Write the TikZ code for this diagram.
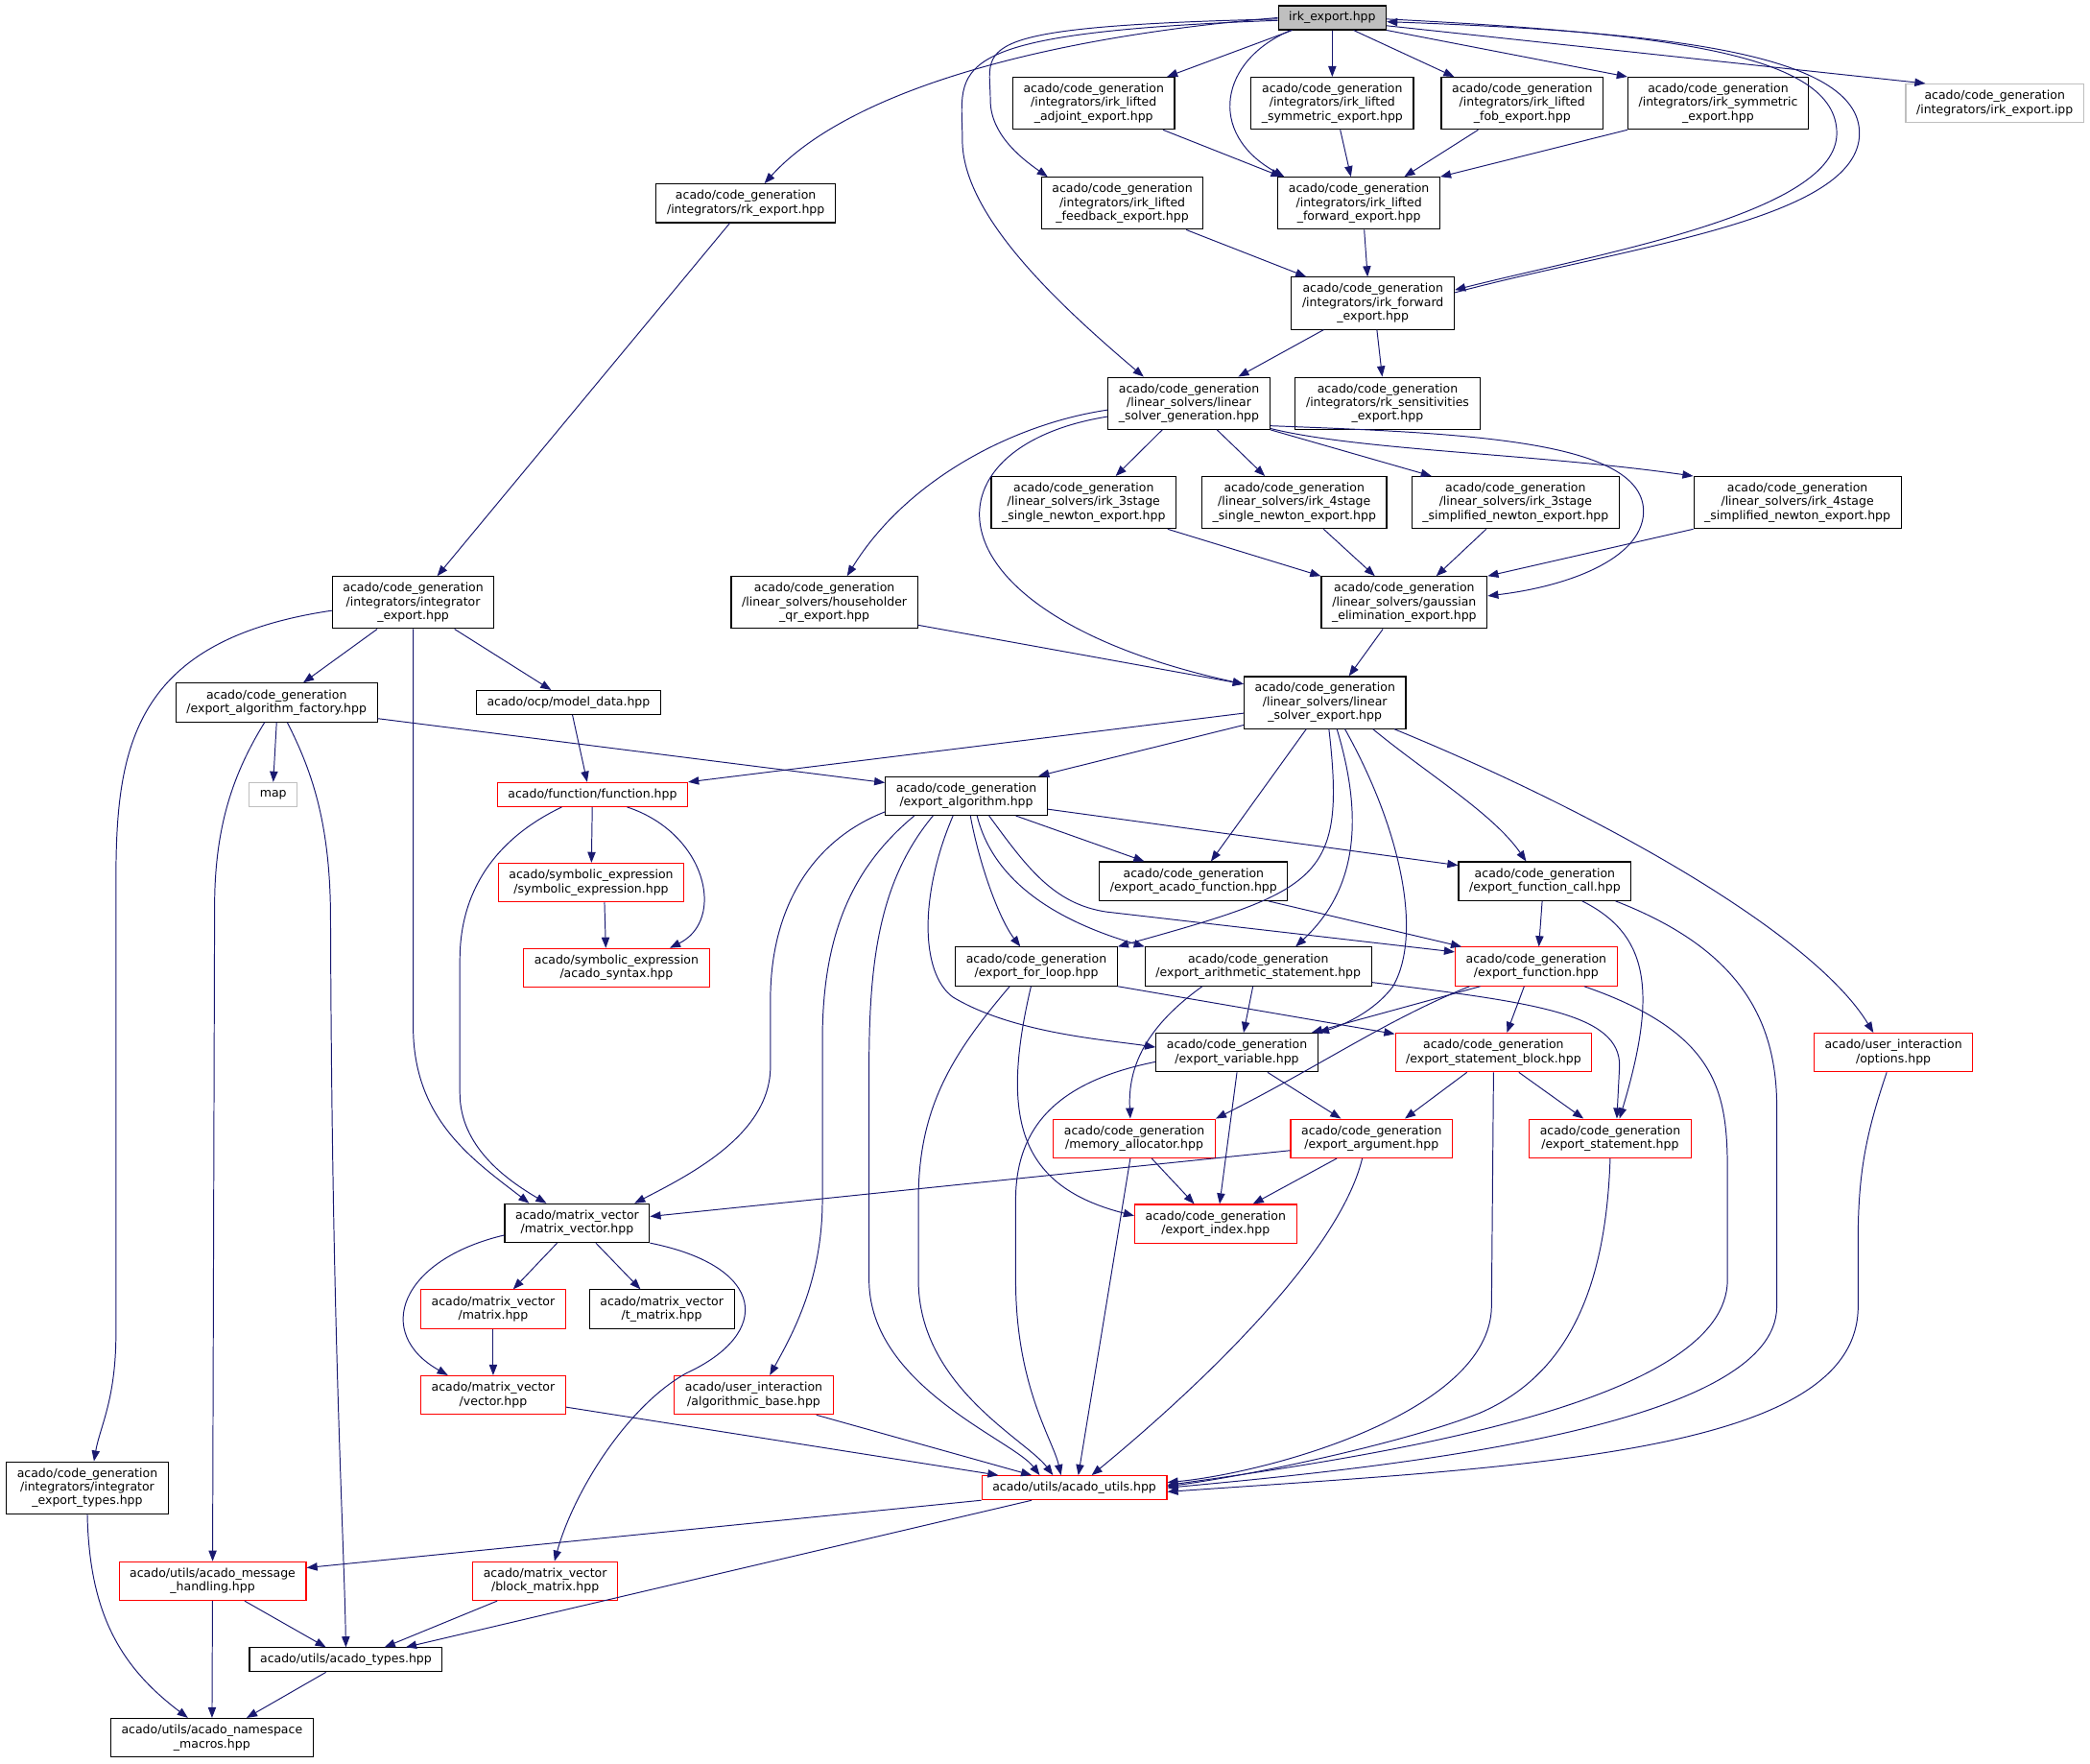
\documentclass[tikz,border=0pt]{standalone}
\usepackage{fontspec}
\setmainfont{DejaVu Sans}
\definecolor{edgeblue}{RGB}{25, 25, 112}
\definecolor{truncred}{RGB}{255, 0, 0}
\definecolor{extgray}{RGB}{191, 191, 191}
\usetikzlibrary{arrows.meta}

\begin{document}
\begin{tikzpicture}[
  x=1pt, y=-1pt,
  dnode/.style={draw=black, line width=0.8pt, inner xsep=8pt, inner ysep=0pt, align=center, font=\fontsize{9}{10.4}\selectfont},
  lines1/.style={dnode, minimum height=18pt},
  lines2/.style={dnode, minimum height=29pt},
  lines3/.style={dnode, minimum height=39pt},
  rootnode/.style={fill=extgray},
  truncnode/.style={draw=truncred},
  extnode/.style={draw=extgray},
  dep/.style={draw=edgeblue, line width=0.7pt, -{Triangle[length=8pt, width=6pt]}}
]
  \useasboundingbox (0,0) rectangle (1568,1323);

  \node[lines1, rootnode] (irkexp) at (999.5,13.3) {irk\_export.hpp};
  \node[lines3] (adjoint) at (820.5,77.5) {acado/code\_generation\\/integrators/irk\_lifted\\\_adjoint\_export.hpp};
  \node[lines3] (liftsym) at (999.5,77.5) {acado/code\_generation\\/integrators/irk\_lifted\\\_symmetric\_export.hpp};
  \node[lines3] (fob) at (1142,77.5) {acado/code\_generation\\/integrators/irk\_lifted\\\_fob\_export.hpp};
  \node[lines3] (irksym) at (1289,77.5) {acado/code\_generation\\/integrators/irk\_symmetric\\\_export.hpp};
  \node[lines2, extnode] (ipp) at (1496.5,77.5) {acado/code\_generation\\/integrators/irk\_export.ipp};
  \node[lines2] (rkexp) at (559.5,152.5) {acado/code\_generation\\/integrators/rk\_export.hpp};
  \node[lines3] (feedback) at (842,152.5) {acado/code\_generation\\/integrators/irk\_lifted\\\_feedback\_export.hpp};
  \node[lines3] (liftfwd) at (1019.5,152.5) {acado/code\_generation\\/integrators/irk\_lifted\\\_forward\_export.hpp};
  \node[lines3] (irkfwd) at (1030,227.5) {acado/code\_generation\\/integrators/irk\_forward\\\_export.hpp};
  \node[lines3] (lsgen) at (892,302.5) {acado/code\_generation\\/linear\_solvers/linear\\\_solver\_generation.hpp};
  \node[lines3] (rksens) at (1041,302.5) {acado/code\_generation\\/integrators/rk\_sensitivities\\\_export.hpp};
  \node[lines3] (sthreesingle) at (813,377) {acado/code\_generation\\/linear\_solvers/irk\_3stage\\\_single\_newton\_export.hpp};
  \node[lines3] (sfoursingle) at (971,377) {acado/code\_generation\\/linear\_solvers/irk\_4stage\\\_single\_newton\_export.hpp};
  \node[lines3] (sthreesimp) at (1137,377) {acado/code\_generation\\/linear\_solvers/irk\_3stage\\\_simplified\_newton\_export.hpp};
  \node[lines3] (sfoursimp) at (1348.5,377) {acado/code\_generation\\/linear\_solvers/irk\_4stage\\\_simplified\_newton\_export.hpp};
  \node[lines3] (intexp) at (310,452) {acado/code\_generation\\/integrators/integrator\\\_export.hpp};
  \node[lines3] (householder) at (618.5,452) {acado/code\_generation\\/linear\_solvers/householder\\\_qr\_export.hpp};
  \node[lines3] (gauss) at (1053.5,452) {acado/code\_generation\\/linear\_solvers/gaussian\\\_elimination\_export.hpp};
  \node[lines2] (factory) at (207.5,527) {acado/code\_generation\\/export\_algorithm\_factory.hpp};
  \node[lines1] (modeldata) at (426.5,527) {acado/ocp/model\_data.hpp};
  \node[lines3] (lsexp) at (994,527) {acado/code\_generation\\/linear\_solvers/linear\\\_solver\_export.hpp};
  \node[lines1, extnode] (map) at (205,596) {map};
  \node[lines1, truncnode] (function) at (444.5,596) {acado/function/function.hpp};
  \node[lines2] (expalg) at (725,597) {acado/code\_generation\\/export\_algorithm.hpp};
  \node[lines2, truncnode] (symexpr) at (443.5,662) {acado/symbolic\_expression\\/symbolic\_expression.hpp};
  \node[lines2] (acadofn) at (895.5,661) {acado/code\_generation\\/export\_acado\_function.hpp};
  \node[lines2] (fncall) at (1159,661) {acado/code\_generation\\/export\_function\_call.hpp};
  \node[lines2, truncnode] (syntax) at (462.5,726) {acado/symbolic\_expression\\/acado\_syntax.hpp};
  \node[lines2] (forloop) at (777.5,725) {acado/code\_generation\\/export\_for\_loop.hpp};
  \node[lines2] (arith) at (944,725) {acado/code\_generation\\/export\_arithmetic\_statement.hpp};
  \node[lines2, truncnode] (expfn) at (1152.5,725) {acado/code\_generation\\/export\_function.hpp};
  \node[lines2] (expvar) at (928,789.5) {acado/code\_generation\\/export\_variable.hpp};
  \node[lines2, truncnode] (stmtblock) at (1120.5,789.5) {acado/code\_generation\\/export\_statement\_block.hpp};
  \node[lines2, truncnode] (options) at (1420.5,789.5) {acado/user\_interaction\\/options.hpp};
  \node[lines2, truncnode] (memalloc) at (851,854) {acado/code\_generation\\/memory\_allocator.hpp};
  \node[lines2, truncnode] (argument) at (1029,854) {acado/code\_generation\\/export\_argument.hpp};
  \node[lines2, truncnode] (statement) at (1208,854) {acado/code\_generation\\/export\_statement.hpp};
  \node[lines2] (matvec) at (433,917.5) {acado/matrix\_vector\\/matrix\_vector.hpp};
  \node[lines2, truncnode] (expindex) at (912,918) {acado/code\_generation\\/export\_index.hpp};
  \node[lines2, truncnode] (mat) at (370,982) {acado/matrix\_vector\\/matrix.hpp};
  \node[lines2] (tmat) at (496.5,982) {acado/matrix\_vector\\/t\_matrix.hpp};
  \node[lines2, truncnode] (vec) at (370,1046.5) {acado/matrix\_vector\\/vector.hpp};
  \node[lines2, truncnode] (algbase) at (565.5,1046.5) {acado/user\_interaction\\/algorithmic\_base.hpp};
  \node[lines1, truncnode] (utils) at (806,1116) {acado/utils/acado\_utils.hpp};
  \node[lines3] (itypes) at (65.5,1116) {acado/code\_generation\\/integrators/integrator\\\_export\_types.hpp};
  \node[lines2, truncnode] (msghandling) at (159.5,1186) {acado/utils/acado\_message\\\_handling.hpp};
  \node[lines2, truncnode] (blockmat) at (409,1186) {acado/matrix\_vector\\/block\_matrix.hpp};
  \node[lines1] (types) at (259.5,1245) {acado/utils/acado\_types.hpp};
  \node[lines2] (macros) at (159,1303.5) {acado/utils/acado\_namespace\\\_macros.hpp};

  \draw[dep] (irkexp.west) .. controls (760,30) and (630,75) .. ([xshift=14pt]rkexp.north);
  \draw[dep] ([xshift=-30pt]irkexp.south) -- ([xshift=55pt]adjoint.north);
  \draw[dep] (irkexp) -- (liftsym);
  \draw[dep] ([xshift=16pt]irkexp.south) -- ([xshift=-51pt]fob.north);
  \draw[dep] (irkexp.south east) -- (irksym.north west);
  \draw[dep] ([yshift=-6pt]irkexp.east) -- ([xshift=-52pt]ipp.north);
  \draw[dep] ([yshift=-1pt]irkexp.west) .. controls (720,20) and (743,35) .. (743,75) .. controls (743,100) and (765,118) .. ([xshift=-56pt]feedback.north);
  \draw[dep] ([xshift=-31pt]irkexp.south) .. controls (915,45) and (905,100) .. ([xshift=-56pt]liftfwd.north);
  \draw[dep] ([yshift=-1pt]irkexp.east) .. controls (1250,25) and (1378,40) .. (1378,100) .. controls (1378,160) and (1200,190) .. ([yshift=10pt]irkfwd.east);
  \draw[dep] ([yshift=8pt]irkfwd.east) .. controls (1220,185) and (1395,165) .. (1395,100) .. controls (1395,40) and (1250,24) .. ([yshift=-3pt]irkexp.east);
  \draw[dep] ([yshift=-2pt]irkexp.west) .. controls (700,25) and (722,50) .. (722,105) .. controls (722,160) and (790,225) .. ([xshift=-34pt]lsgen.north);

  \draw[dep] ([xshift=52pt]adjoint.south) -- ([xshift=-58pt]liftfwd.north);
  \draw[dep] ([xshift=6pt]liftsym.south) -- ([xshift=-6pt]liftfwd.north);
  \draw[dep] ([xshift=-33pt]fob.south) -- ([xshift=34pt]liftfwd.north);
  \draw[dep] (irksym.south west) -- (liftfwd.north east);
  \draw[dep] ([xshift=-12pt]rkexp.south) -- ([xshift=18pt]intexp.north);
  \draw[dep] ([xshift=48pt]feedback.south) -- ([xshift=-50pt]irkfwd.north);
  \draw[dep] ([xshift=4pt]liftfwd.south) -- ([xshift=-4pt]irkfwd.north);
  \draw[dep] ([xshift=-37pt]irkfwd.south) -- ([xshift=37pt]lsgen.north);
  \draw[dep] ([xshift=3pt]irkfwd.south) -- ([xshift=-4pt]rksens.north);

  \draw[dep] ([xshift=-20pt]lsgen.south) -- ([xshift=24pt]sthreesingle.north);
  \draw[dep] ([xshift=21pt]lsgen.south) -- ([xshift=-22pt]sfoursingle.north);
  \draw[dep] (lsgen.south east) -- ([xshift=-63pt]sthreesimp.north);
  \draw[dep] ([yshift=1pt]lsgen.south east) .. controls (1020,338) and (1150,340) .. (sfoursimp.north west);
  \draw[dep] ([yshift=3pt]lsgen.south east) .. controls (1100,325) and (1235,330) .. (1233,385) .. controls (1231,420) and (1175,440) .. ([yshift=5pt]gauss.east);
  \draw[dep] ([yshift=-5pt]lsgen.west) .. controls (760,318) and (680,360) .. ([xshift=17pt]householder.north);
  \draw[dep] ([yshift=-10pt]lsgen.west) .. controls (690,335) and (690,460) .. ([yshift=-6pt]lsexp.north west);
  \draw[dep] ([xshift=63pt]sthreesingle.south) -- (gauss.north west);
  \draw[dep] ([xshift=22pt]sfoursingle.south) -- ([xshift=-22pt]gauss.north);
  \draw[dep] ([xshift=-22pt]sthreesimp.south) -- ([xshift=24pt]gauss.north);
  \draw[dep] (sfoursimp.south west) -- (gauss.north east);
  \draw[dep] ([yshift=3pt]householder.south east) -- ([yshift=-6pt]lsexp.north west);
  \draw[dep] ([xshift=-16pt]gauss.south) -- ([xshift=18pt]lsexp.north);

  \draw[dep] ([xshift=-27pt]intexp.south) -- ([xshift=20pt]factory.north);
  \draw[dep] ([xshift=31pt]intexp.south) -- ([xshift=-13pt]modeldata.north);
  \draw[dep] (intexp.south) -- (310,770) .. controls (310,840) and (355,870) .. ([xshift=-36pt]matvec.north);
  \draw[dep] ([yshift=-6pt]intexp.west) .. controls (100,480) and (87,560) .. (87,660) -- (87,1000) .. controls (87,1050) and (75,1070) .. ([xshift=5pt]itypes.north);
  \draw[dep] (factory.south) -- (map.north);
  \draw[dep] ([yshift=-12pt]factory.east) -- ([yshift=-5pt]expalg.north west);
  \draw[dep] ([xshift=-9pt]factory.south) .. controls (175,580) and (161,620) .. (161,680) -- (msghandling.north);
  \draw[dep] ([xshift=8pt]factory.south) .. controls (235,580) and (248,620) .. (248,690) .. controls (249,1000) and (258,1150) .. (types.north);
  \draw[dep] ([xshift=3pt]modeldata.south) -- ([xshift=-4pt]function.north);

  \draw[dep] ([yshift=-8pt]lsexp.west) -- (function.north east);
  \draw[dep] ([yshift=3pt]lsexp.south west) -- ([xshift=-7pt]expalg.north east);
  \draw[dep] ([xshift=-14pt]lsexp.south) -- ([xshift=13pt]acadofn.north);
  \draw[dep] ([xshift=36pt]lsexp.south) .. controls (1070,580) and (1120,610) .. ([xshift=-14pt]fncall.north);
  \draw[dep] ([xshift=3pt]lsexp.south) .. controls (1010,660) and (990,668) .. (forloop.north east);
  \draw[dep] ([xshift=9pt]lsexp.south) .. controls (1025,620) and (1015,670) .. ([xshift=28pt]arith.north);
  \draw[dep] ([xshift=15pt]lsexp.south) .. controls (1050,620) and (1068,700) .. (1045,740) .. controls (1030,760) and (1005,770) .. (expvar.north east);
  \draw[dep] ([xshift=52pt]lsexp.south) .. controls (1200,610) and (1360,700) .. ([xshift=-15pt]options.north);

  \draw[dep] (function) -- (symexpr);
  \draw[dep] ([xshift=26pt]function.south) .. controls (530,625) and (545,690) .. ([xshift=40pt]syntax.north);
  \draw[dep] ([xshift=-23pt]function.south) .. controls (370,630) and (345,670) .. (345,720) -- (345,820) .. controls (345,860) and (380,885) .. ([xshift=-23pt]matvec.north);
  \draw[dep] ([xshift=10pt]symexpr.south) -- ([xshift=-8pt]syntax.north);

  \draw[dep] ([xshift=37pt]expalg.south) -- ([xshift=-37pt]acadofn.north);
  \draw[dep] ([yshift=-10pt]expalg.east) -- ([yshift=-3pt]fncall.north west);
  \draw[dep] ([xshift=3pt]expalg.south) .. controls (735,650) and (750,690) .. ([xshift=-12pt]forloop.north);
  \draw[dep] ([xshift=8pt]expalg.south) .. controls (745,660) and (790,690) .. (arith.north west);
  \draw[dep] ([xshift=17pt]expalg.south) .. controls (770,650) and (790,678) .. (830,684) -- ([yshift=-4pt]expfn.north west);
  \draw[dep] ([xshift=-10pt]expalg.south) .. controls (690,670) and (690,730) .. (715,748) .. controls (760,775) and (830,780) .. ([yshift=4pt]expvar.west);
  \draw[dep] ([yshift=-12pt]expalg.west) .. controls (610,630) and (578,680) .. (578,750) -- (578,800) .. controls (578,850) and (520,880) .. ([xshift=43pt]matvec.north);
  \draw[dep] ([xshift=-39pt]expalg.south) .. controls (640,650) and (617,700) .. (617,780) -- (617,900) .. controls (617,960) and (595,1000) .. ([xshift=12pt]algbase.north);
  \draw[dep] ([xshift=-25pt]expalg.south) .. controls (660,660) and (652,720) .. (652,800) -- (652,960) .. controls (652,1040) and (760,1080) .. ([xshift=-26pt]utils.north);

  \draw[dep] ([xshift=56pt]acadofn.south) -- ([xshift=-56pt]expfn.north);
  \draw[dep] ([xshift=-2pt]fncall.south) -- ([xshift=2pt]expfn.north);
  \draw[dep] ([xshift=28pt]fncall.south) .. controls (1235,700) and (1245,740) .. ([xshift=7pt]statement.north);
  \draw[dep] ([xshift=53pt]fncall.south) .. controls (1300,710) and (1333,760) .. (1333,830) -- (1333,980) .. controls (1333,1070) and (1050,1100) .. (utils.east);
  \draw[dep] ([xshift=36pt]expfn.south) .. controls (1290,775) and (1296,820) .. (1296,880) -- (1296,960) .. controls (1296,1050) and (1050,1090) .. ([yshift=2pt]utils.east);
  \draw[dep] (stmtblock.south) -- (1119,980) .. controls (1118,1060) and (950,1105) .. ([yshift=4pt]utils.east);
  \draw[dep] (statement.south) .. controls (1205,960) and (1180,1030) .. (1110,1060) .. controls (1060,1080) and (950,1105) .. ([yshift=1pt]utils.east);
  \draw[dep] ([xshift=-5pt]options.south) .. controls (1400,850) and (1394,880) .. (1394,930) -- (1394,980) .. controls (1394,1090) and (1150,1100) .. ([yshift=-3pt]utils.east);

  \draw[dep] (forloop.south east) -- ([yshift=-1pt]stmtblock.north west);
  \draw[dep] ([xshift=-4pt]forloop.south) .. controls (750,840) and (765,890) .. ([yshift=6pt]expindex.west);
  \draw[dep] ([xshift=-20pt]forloop.south) .. controls (715,790) and (689,830) .. (689,900) -- (689,960) .. controls (689,1040) and (770,1080) .. ([xshift=-16pt]utils.north);
  \draw[dep] ([xshift=-4pt]arith.south) -- ([xshift=5pt]expvar.north);
  \draw[dep] ([xshift=-42pt]arith.south) .. controls (860,770) and (846,800) .. ([xshift=-3pt]memalloc.north);
  \draw[dep] ([yshift=3pt]arith.south east) .. controls (1150,752) and (1216,760) .. (1215,800) -- ([xshift=5pt]statement.north);
  \draw[dep] ([xshift=-42pt]expfn.south) -- ([xshift=56pt]expvar.north);
  \draw[dep] ([xshift=-9pt]expfn.south) -- ([xshift=10pt]stmtblock.north);
  \draw[dep] ([xshift=-50pt]expfn.south) .. controls (1040,765) and (990,800) .. (memalloc.north east);

  \draw[dep] ([xshift=23pt]expvar.south) -- ([xshift=-23pt]argument.north);
  \draw[dep] (expvar.south) -- ([xshift=3pt]expindex.north);
  \draw[dep] ([yshift=-7pt]expvar.west) .. controls (800,810) and (762,840) .. (762,900) -- (762,960) .. controls (762,1040) and (790,1080) .. ([xshift=-10pt]utils.north);
  \draw[dep] ([xshift=-20pt]stmtblock.south) -- ([xshift=25pt]argument.north);
  \draw[dep] ([xshift=19pt]stmtblock.south) -- ([xshift=-20pt]statement.north);
  \draw[dep] ([xshift=13pt]memalloc.south) -- ([xshift=-16pt]expindex.north);
  \draw[dep] ([xshift=-3pt]memalloc.south) -- ([xshift=3pt]utils.north);
  \draw[dep] ([yshift=-9pt]argument.west) -- ([yshift=5pt]matvec.east);
  \draw[dep] ([xshift=-26pt]argument.south) -- ([xshift=28pt]expindex.north);
  \draw[dep] ([xshift=-7pt]argument.south) .. controls (1005,940) and (900,1040) .. ([xshift=13pt]utils.north);

  \draw[dep] ([xshift=-15pt]matvec.south) -- ([xshift=15pt]mat.north);
  \draw[dep] ([xshift=14pt]matvec.south) -- ([xshift=-16pt]tmat.north);
  \draw[dep] ([yshift=-9pt]matvec.west) .. controls (300,945) and (280,1000) .. ([xshift=-34pt]vec.north);
  \draw[dep] (matvec.south east) .. controls (575,950) and (580,1000) .. (515,1030) .. controls (470,1055) and (430,1120) .. ([xshift=7pt]blockmat.north);
  \draw[dep] (mat) -- (vec);
  \draw[dep] ([yshift=-9pt]vec.east) -- ([xshift=-57pt]utils.north);
  \draw[dep] ([xshift=47pt]algbase.south) -- ([xshift=-32pt]utils.north);
  \draw[dep] (utils.south west) -- ([yshift=10pt]msghandling.east);
  \draw[dep] ([xshift=-32pt]utils.south) -- ([xshift=45pt]types.north);
  \draw[dep] (itypes.south) .. controls (67,1210) and (90,1250) .. ([xshift=-18pt]macros.north);
  \draw[dep] (msghandling) -- (macros);
  \draw[dep] ([xshift=24pt]msghandling.south) -- ([xshift=-15pt]types.north);
  \draw[dep] ([xshift=-36pt]blockmat.south) -- ([xshift=29pt]types.north);
  \draw[dep] ([xshift=-15pt]types.south) -- ([xshift=26pt]macros.north);
\end{tikzpicture}
\end{document}
